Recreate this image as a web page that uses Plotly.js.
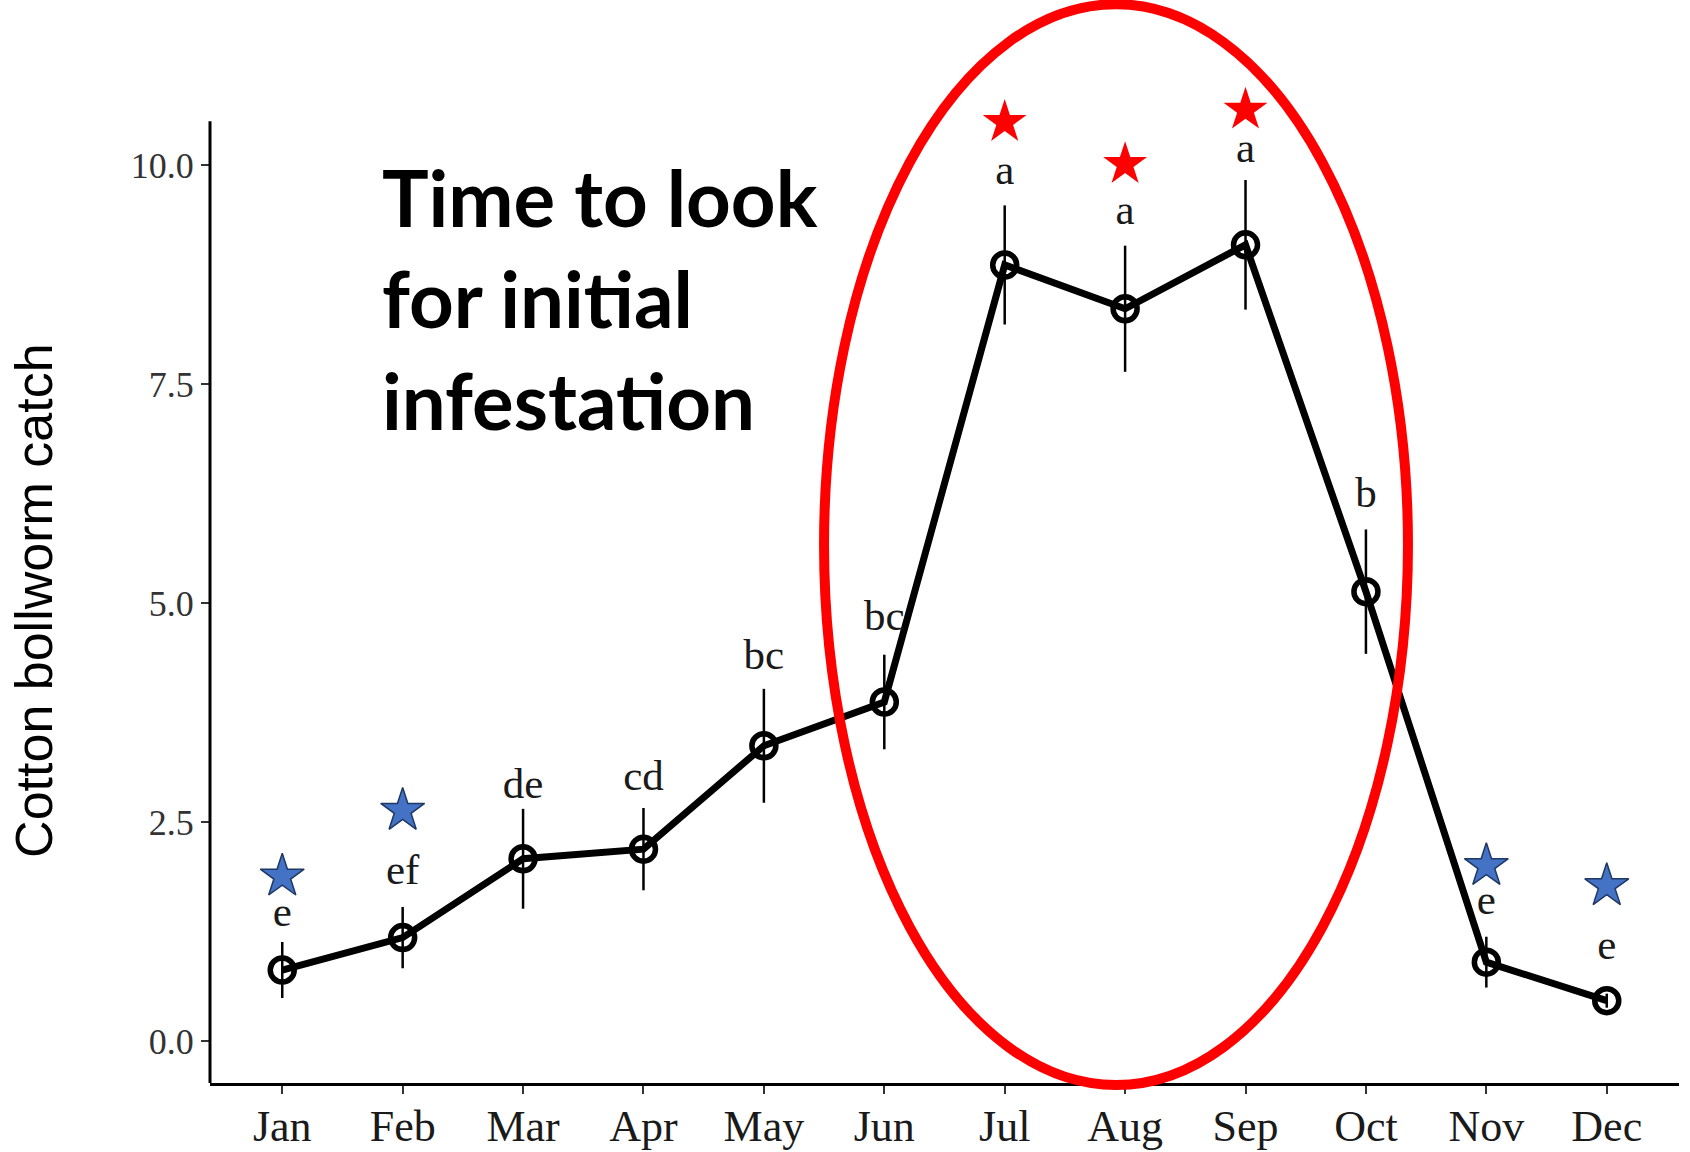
<!DOCTYPE html>
<html>
<head>
<meta charset="utf-8">
<script src="https://cdn.plot.ly/plotly-3.0.1.min.js"></script>
<style>html,body{margin:0;padding:0;background:#fff;}#chart{width:1690px;height:1152px;}</style>
</head>
<body>
<div id="chart"></div>
<script>
// ---- data ----
const months = ["Jan","Feb","Mar","Apr","May","Jun","Jul","Aug","Sep","Oct","Nov","Dec"];
const catchMean = [0.81, 1.18, 2.08, 2.19, 3.37, 3.87, 8.86, 8.36, 9.09, 5.13, 0.90, 0.46];
const catchErr  = [0.32, 0.35, 0.57, 0.47, 0.65, 0.54, 0.68, 0.72, 0.74, 0.71, 0.29, 0.08];
const groupLetters = ["e","ef","de","cd","bc","bc","a","a","a","b","e","e"];
const letterY = [1.43, 1.92, 2.90, 2.99, 4.37, 4.82, 9.91, 9.45, 10.16, 6.22, 1.57, 1.06];
const blueStarMonths = ["Jan","Feb","Nov","Dec"];
const blueStarY = [1.88, 2.63, 2.00, 1.77];
const redStarMonths = ["Jul","Aug","Sep"];
const redStarY = [10.49, 10.01, 10.63];
const yTickVals = [0, 2.5, 5, 7.5, 10];

const yMin = -0.48, yAxisTop = 10.5, yMax = 11.2;

const traces = [
  {
    x: months, y: catchMean, type: "scatter", mode: "lines+markers",
    line: {color: "#000", width: 7},
    marker: {symbol: "circle-open", size: 24, color: "#000", line: {width: 5.5, color: "#000"}},
    error_y: {type: "data", array: catchErr, visible: true, color: "#000", thickness: 2.5, width: 0},
    hoverinfo: "x+y", showlegend: false
  },
  {
    x: months, y: letterY, type: "scatter", mode: "text", text: groupLetters,
    textposition: "middle center",
    textfont: {family: "Liberation Serif, Times New Roman, serif", size: 43, color: "#1a1a1a"},
    hoverinfo: "skip", showlegend: false
  },
  {
    x: blueStarMonths, y: blueStarY, type: "scatter", mode: "markers",
    marker: {symbol: "star", size: 33, color: "#4472C4", line: {width: 1.5, color: "#1F3864"}},
    hoverinfo: "skip", showlegend: false
  },
  {
    x: redStarMonths, y: redStarY, type: "scatter", mode: "markers",
    marker: {symbol: "star", size: 33, color: "#FF0000", line: {width: 0}},
    hoverinfo: "skip", showlegend: false
  }
];

const layout = {
  width: 1690, height: 1152,
  margin: {l: 210, r: 11, t: 60, b: 69},
  paper_bgcolor: "#fff", plot_bgcolor: "#fff",
  xaxis: {
    type: "category", categoryorder: "array", categoryarray: months,
    range: [-0.6, 11.6], showgrid: false, zeroline: false,
    showline: true, linecolor: "#000", linewidth: 3,
    ticks: "outside", ticklen: 8, tickwidth: 2, tickcolor: "#333",
    ticklabelstandoff: -6,
    tickfont: {family: "Liberation Serif, Times New Roman, serif", size: 44, color: "#1a1a1a"}
  },
  yaxis: {
    range: [yMin, yMax], showgrid: false, zeroline: false,
    showline: false,
    tickvals: yTickVals, tickformat: ".1f",
    ticks: "outside", ticklen: 8, tickwidth: 2, tickcolor: "#333",
    tickfont: {family: "Liberation Serif, Times New Roman, serif", size: 36, color: "#333"}
  },
  shapes: [
    {type: "line", xref: "paper", yref: "paper", x0: 0, x1: 0, y0: 0,
     y1: (yAxisTop - yMin) / (yMax - yMin), line: {color: "#000", width: 3}, layer: "above"},
    {type: "circle", xref: "paper", yref: "paper", x0: 0.418, x1: 0.8155, y0: -0.002, y1: 1.0545,
     line: {color: "#FF0000", width: 10}, fillcolor: "rgba(0,0,0,0)", layer: "above"}
  ],
  annotations: [
    {text: "Time to look<br>for initial<br>infestation", xref: "paper", yref: "paper",
     x: 0.1157, y: 0.914, xanchor: "left", yanchor: "top", align: "left", showarrow: false,
     font: {family: "Lato, Open Sans, sans-serif", size: 78, color: "#000", weight: "bold"}},
    {text: "Cotton bollworm catch", xref: "paper", yref: "paper",
     x: -0.12, y: 0.471, xanchor: "center", yanchor: "middle", textangle: -90, showarrow: false,
     font: {family: "Liberation Sans, Arial, sans-serif", size: 52, color: "#000"}}
  ]
};

Plotly.newPlot("chart", traces, layout, {displayModeBar: false, staticPlot: true});
</script>
</body>
</html>
